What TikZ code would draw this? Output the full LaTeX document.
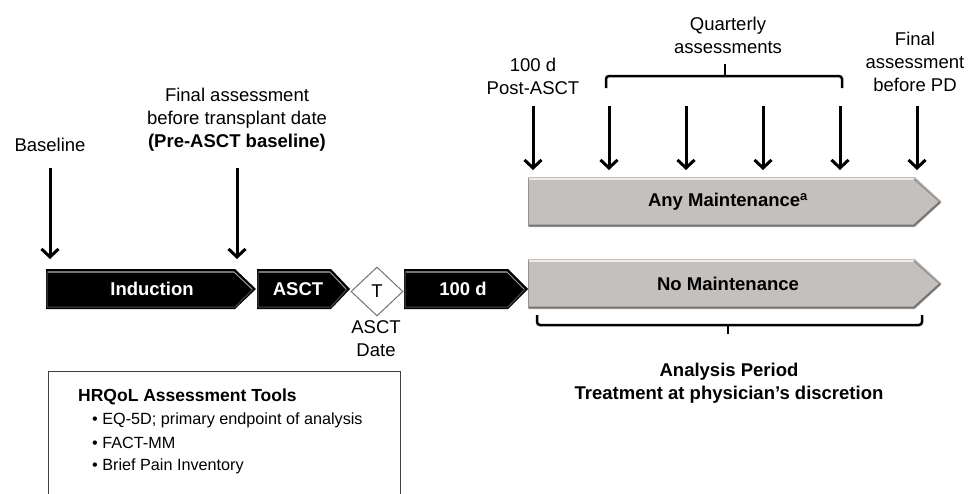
\documentclass[tikz,border=0pt]{standalone}
\usepackage{fontspec}
\setmainfont{Liberation Sans}
\usetikzlibrary{arrows.meta,shapes.geometric}
\definecolor{grayfill}{RGB}{196,192,190}
\definecolor{grayedge}{RGB}{150,146,144}
\definecolor{graydark}{RGB}{120,116,114}
\newcommand\myblkbox[4]{% x1, body end, tip, ytop ; height 40
  \fill[black] (#1,#4) -- (#2,#4) -- (#3,#4+20) -- (#2,#4+40) -- (#1,#4+40) -- cycle;
  \draw[black!55, line width=1.2pt] (#1+2,#4+3) -- (#2-1,#4+3);
  \draw[black!40, line width=1pt] (#2-1,#4+3) -- (#3-4,#4+20);
  \draw[black!70, line width=1pt] (#3-3,#4+20) -- (#2,#4+38) -- (#1+1,#4+38) -- (#1+1,#4+2);
}
\newcommand\mygrybox[4]{% x1, body end, tip, ytop ; height 50
  \fill[grayfill] (#1,#4) -- (#2,#4) -- (#3,#4+25) -- (#2,#4+50) -- (#1,#4+50) -- cycle;
  \draw[white, opacity=0.7, line width=2pt] (#1+1,#4+2) -- (#2-1,#4+2);
  \draw[grayedge, line width=1.5pt] (#2-1,#4+2) -- (#3-2,#4+25);
  \draw[graydark, line width=2pt] (#3-2,#4+25) -- (#2-1,#4+48.5) -- (#1+1,#4+48.5);
  \draw[grayedge, line width=1pt] (#1+0.5,#4+1) -- (#1+0.5,#4+49);
}
\begin{document}
\begin{tikzpicture}[x=1pt,y=-1pt,
  lbl/.style={font=\fontsize{18.5}{23}\selectfont, align=center, inner sep=0pt},
  wtxt/.style={inner sep=0pt, text=white, font=\fontsize{18.5}{22}\selectfont\bfseries},
  btxt/.style={inner sep=0pt, text=black, font=\fontsize{18.5}{22}\selectfont\bfseries},
  tl/.style={line width=3pt, -{Straight Barb[length=8pt,width=17pt]}},
  brk/.style={line width=2.5pt, rounded corners=3pt},
  boxline/.style={draw=black!75, line width=0.8pt},
]
\useasboundingbox (0,0) rectangle (975,493);

% timeline boxes
\myblkbox{46}{235}{256}{269}
\myblkbox{257}{331}{350}{269}
\myblkbox{404}{508}{528}{269}
\mygrybox{528}{915}{942}{177}
\mygrybox{528}{915}{942}{259}

\node[wtxt] (ind) at (152,289) {Induction};
\node[wtxt] (asct) at (298,289) {ASCT};
\node[diamond, minimum width=52pt, minimum height=49pt, inner sep=0pt, aspect=1.06,
      draw=black!55, line width=1pt, fill=white,
      font=\fontsize{18.5}{22}\selectfont] (tdate) at (377,291.5) {T};
\node[wtxt] (hund) at (463,289) {100 d};
\node[btxt] (anym) at (728,202) {Any Maintenance\textsuperscript{a}};
\node[btxt] (nom) at (728,284) {No Maintenance};

% left labels and arrows
\node[lbl] (bl) at (50,145) {Baseline};
\node[lbl] (fa) at (237,120) {Final assessment\\before transplant date\\\textbf{(Pre-ASCT baseline)}};
\coordinate (bls) at (50,168);
\coordinate (ble) at (50,259);
\coordinate (fas) at (237,168);
\coordinate (fae) at (237,259);
\draw[tl] (bls) -- (ble);
\draw[tl] (fas) -- (fae);

% right labels
\node[lbl] (pa) at (533,76) {100 d\\Post-ASCT};
\node[lbl] (qa) at (728,35.5) {Quarterly\\assessments};
\node[lbl] (fp) at (915,62) {Final\\assessment\\before PD};

\foreach \x/\n in {533/a0,609/a1,686/a2,763/a3,840/a4,917/a5}{
  \coordinate (\n s) at (\x,106);
  \coordinate (\n e) at (\x,170);
  \draw[tl] (\n s) -- (\n e);
}

% top bracket
\coordinate (tb1) at (606,88);
\coordinate (tb2) at (842,88);
\coordinate (tbm) at (725,64);
\draw[brk] (tb1) -- (606,76) -- (842,76) -- (tb2);
\draw[line width=2.5pt] (725,77) -- (tbm);

% bottom bracket
\coordinate (bb1) at (537,315);
\coordinate (bb2) at (922,315);
\coordinate (bbm) at (728,334);
\draw[brk] (bb1) -- (537,325) -- (922,325) -- (bb2);
\draw[line width=2.5pt] (728,324) -- (bbm);

% lower labels
\node[lbl] (adate) at (376,339) {ASCT\\Date};
\node[lbl, font=\fontsize{18.5}{23}\selectfont\bfseries] (ap) at (729,383) {Analysis Period\\Treatment at physician’s discretion};

% HRQoL box
\coordinate (bx1) at (48,494);
\coordinate (bx2) at (48,371);
\coordinate (bx3) at (400,371);
\coordinate (bx4) at (400,494);
\draw[boxline] (bx1) -- (bx2) -- (bx3) -- (bx4);
\node[anchor=west, inner sep=0pt, font=\fontsize{17.5}{21}\selectfont\bfseries] (ht) at (78,397) {HRQoL Assessment Tools};
\node[anchor=west, inner sep=0pt, font=\fontsize{16.2}{20}\selectfont] (b1) at (92,420) {\textbullet\ EQ-5D; primary endpoint of analysis};
\node[anchor=west, inner sep=0pt, font=\fontsize{16.2}{20}\selectfont] (b2) at (92,443) {\textbullet\ FACT-MM};
\node[anchor=west, inner sep=0pt, font=\fontsize{16.2}{20}\selectfont] (b3) at (92,466) {\textbullet\ Brief Pain Inventory};
\end{tikzpicture}
\end{document}
